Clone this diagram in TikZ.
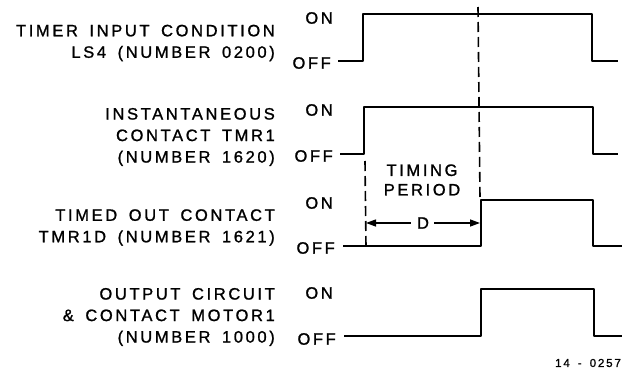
\documentclass[tikz,border=0pt]{standalone}
\usepackage{fontspec}
\setmainfont{Liberation Sans}[LetterSpace=16, WordSpace=1.6, FakeBold=1.2]
\usetikzlibrary{arrows.meta}
\begin{document}
\begin{tikzpicture}[x=1pt,y=-1pt,
  wave/.style={line width=2.5pt, line join=round},
  lbl/.style={font=\fontsize{16.5}{21.5}\selectfont, align=right, inner sep=0pt, anchor=east},
  lvl/.style={font=\fontsize{16.5}{18}\selectfont, anchor=east, inner sep=0pt},
  dashln/.style={line width=1.6pt, dash pattern=on 10pt off 5pt},
  arr/.style={line width=1.3pt, -{Triangle[length=10pt,width=7pt]}}]
\useasboundingbox (0,0) rectangle (624,375);

% left labels
\node[lbl] (l1) at (275,43) {TIMER INPUT CONDITION\\LS4 (NUMBER 0200)};
\node[lbl] (l2) at (275,137) {INSTANTANEOUS\\CONTACT TMR1\\(NUMBER 1620)};
\node[lbl] (l3) at (275,227.5) {TIMED OUT CONTACT\\TMR1D (NUMBER 1621)};
\node[lbl] (l4) at (275,317) {OUTPUT CIRCUIT\\\& CONTACT MOTOR1\\(NUMBER 1000)};

% ON / OFF labels
\node[lvl] (on1) at (333,18) {ON};
\node[lvl] (off1) at (331,63) {OFF};
\node[lvl] (on2) at (333,110) {ON};
\node[lvl] (off2) at (333,156) {OFF};
\node[lvl] (on3) at (333,203) {ON};
\node[lvl] (off3) at (335,248) {OFF};
\node[lvl] (on4) at (333,293) {ON};
\node[lvl] (off4) at (336,339) {OFF};

% waveforms
\draw[wave] (338,61) -- (363,61) -- (363,14) -- (592,14) -- (592,61) -- (618,61);
\draw[wave] (340,154) -- (364,154) -- (364,107) -- (593,107) -- (593,154) -- (618,154);
\draw[wave] (343,246) -- (481,246) -- (481,200) -- (593,200) -- (593,246) -- (622,246);
\draw[wave] (344,336) -- (481,336) -- (481,289) -- (594,289) -- (594,336) -- (622,336);

% dashed lines
\coordinate (dt1) at (478,7);
\coordinate (db1) at (480,198);
\coordinate (dt2) at (365,161);
\coordinate (db2) at (366,247);
\draw[dashln] (dt1) -- (db1);
\draw[dashln] (dt2) -- (db2);

% timing period
\node[lvl, anchor=center] (tp) at (422,180) [align=center, font=\fontsize{16.5}{19.5}\selectfont] {TIMING\\PERIOD};
\node[lvl, anchor=center, inner sep=1pt] (D) at (423,223) {D};
\coordinate (al) at (366,223);
\coordinate (ar) at (480,223);
\draw[arr] ([xshift=-5pt]D.west) -- (al);
\draw[arr] ([xshift=4pt]D.east) -- (ar);

% figure number
\node[font=\fontsize{11.5}{13}\selectfont, inner sep=0pt] (fig) at (588,363) {14 - 0257};
\end{tikzpicture}
\end{document}
